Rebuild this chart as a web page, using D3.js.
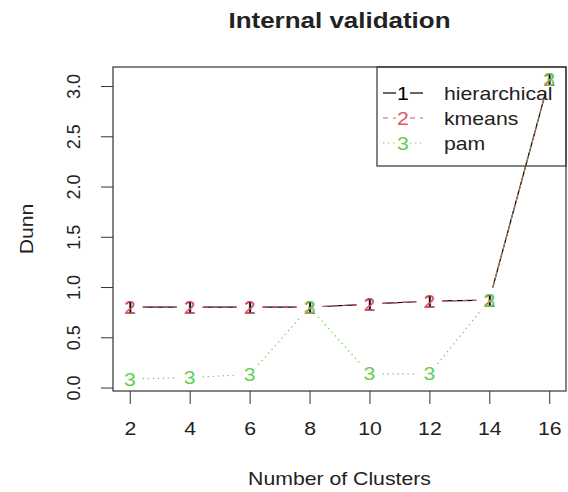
<!DOCTYPE html>
<html>
<head>
<meta charset="utf-8">
<script src="https://cdn.jsdelivr.net/npm/d3@7"></script>
<style>
  body { margin: 0; background: #fff; }
  text { font-family: "Liberation Sans", Arial, sans-serif; }
</style>
</head>
<body>
<div id="plot"></div>
<script>
// data
var clusters = [2, 4, 6, 8, 10, 12, 14, 16];
var hierarchical = [0.80, 0.80, 0.80, 0.80, 0.83, 0.86, 0.87, 3.07];
var kmeans = [0.80, 0.80, 0.80, 0.80, 0.83, 0.86, 0.87, 3.07];
var pam = [0.085, 0.10, 0.13, 0.80, 0.135, 0.135, 0.87, 3.07];
var seriesNames = ["hierarchical", "kmeans", "pam"];
var yTicks = [0, 0.5, 1, 1.5, 2, 2.5, 3];

var series = [
  {name: seriesNames[0], values: hierarchical, pch: "1", color: "#000000", dash: null},
  {name: seriesNames[1], values: kmeans, pch: "2", color: "#DF536B", dash: "5,5"},
  {name: seriesNames[2], values: pam, pch: "3", color: "#61D04F", dash: "1.3,3.7"}
];

var width = 568, height = 492;
var box = {left: 113, right: 566, top: 67, bottom: 391};
var stretch = 1.18;   // text in the picture is a bit wider than tall
var textColor = "#222";

var svg = d3.select("#plot")
  .append("svg")
    .attr("width", width)
    .attr("height", height);

// R style axis ranges: 4% padding on each side
function padded(lo, hi) {
  var d = (hi - lo) * 0.04;
  return [lo - d, hi + d];
}
var allY = hierarchical.concat(kmeans, pam);

var x = d3.scaleLinear()
    .domain(padded(d3.min(clusters), d3.max(clusters)))
    .range([box.left, box.right]);

var y = d3.scaleLinear()
    .domain(padded(d3.min(allY), d3.max(allY)))
    .range([box.bottom, box.top]);

// x axis
var xAxis = svg.append("g")
    .attr("transform", "translate(0," + box.bottom + ")")
    .call(d3.axisBottom(x).tickValues(clusters).tickSize(13).tickSizeOuter(0));
xAxis.select(".domain").remove();
xAxis.selectAll("line").attr("stroke", "#333");
xAxis.selectAll("text")
    .attr("y", 0)
    .attr("dy", 0)
    .attr("transform", "translate(0,44) scale(" + stretch + ",1)")
    .attr("font-size", "18px")
    .attr("fill", textColor);

// y axis, labels parallel to the axis
var yAxis = svg.append("g")
    .attr("transform", "translate(" + box.left + ",0)")
    .call(d3.axisLeft(y).tickValues(yTicks).tickFormat(d3.format(".1f")).tickSize(12).tickSizeOuter(0));
yAxis.select(".domain").remove();
yAxis.selectAll("line").attr("stroke", "#333");
yAxis.selectAll("text")
    .attr("x", 0)
    .attr("dy", 0)
    .attr("text-anchor", "middle")
    .attr("transform", "translate(-33,0) rotate(-90)")
    .attr("font-size", "18px")
    .attr("fill", textColor);

// series: lines with gaps around the point characters (type = "b")
var gap = 13;
series.forEach(function(s) {
  var pts = clusters.map(function(c, i) { return [x(c), y(s.values[i])]; });
  var segs = [];
  for (var i = 0; i < pts.length - 1; i++) {
    var dx = pts[i + 1][0] - pts[i][0], dy = pts[i + 1][1] - pts[i][1];
    var len = Math.sqrt(dx * dx + dy * dy);
    if (len <= 2 * gap) continue;
    var ux = dx / len, uy = dy / len;
    segs.push([pts[i][0] + ux * gap, pts[i][1] + uy * gap,
               pts[i + 1][0] - ux * gap, pts[i + 1][1] - uy * gap]);
  }
  var g = svg.append("g");
  g.selectAll("line")
    .data(segs)
    .enter()
    .append("line")
      .attr("x1", function(d) { return d[0]; })
      .attr("y1", function(d) { return d[1]; })
      .attr("x2", function(d) { return d[2]; })
      .attr("y2", function(d) { return d[3]; })
      .attr("stroke", s.color)
      .attr("stroke-width", 1.2)
      .attr("stroke-dasharray", s.dash);

  g.selectAll("text")
    .data(clusters)
    .enter()
    .append("text")
      .attr("transform", function(d, i) {
        return "translate(" + x(d) + "," + (y(s.values[i]) + 6.5) + ") scale(" + stretch + ",1)";
      })
      .attr("text-anchor", "middle")
      .attr("font-size", "18px")
      .attr("fill", s.color)
      .text(s.pch);
});

// plot box
svg.append("rect")
    .attr("x", box.left)
    .attr("y", box.top)
    .attr("width", box.right - box.left)
    .attr("height", box.bottom - box.top)
    .attr("fill", "none")
    .attr("stroke", "#333")
    .attr("stroke-width", 1.2);

// legend, top right
var legend = svg.append("g");
legend.append("rect")
    .attr("x", 377)
    .attr("y", box.top)
    .attr("width", box.right - 377)
    .attr("height", 99)
    .attr("fill", "none")
    .attr("stroke", "#333")
    .attr("stroke-width", 1.2);

var items = legend.selectAll(".legend")
    .data(series)
    .enter()
    .append("g")
      .classed("legend", true)
      .attr("transform", function(d, i) { return "translate(0," + (93 + i * 25) + ")"; });

items.append("line")
    .attr("x1", 383).attr("x2", 396).attr("y1", 0).attr("y2", 0)
    .attr("stroke", function(d) { return d.color; })
    .attr("stroke-width", 1.2)
    .attr("stroke-dasharray", function(d) { return d.dash; });
items.append("line")
    .attr("x1", 410).attr("x2", 423).attr("y1", 0).attr("y2", 0)
    .attr("stroke", function(d) { return d.color; })
    .attr("stroke-width", 1.2)
    .attr("stroke-dasharray", function(d) { return d.dash; });
items.append("text")
    .attr("transform", "translate(403,6.5) scale(" + stretch + ",1)")
    .attr("text-anchor", "middle")
    .attr("font-size", "18px")
    .attr("fill", function(d) { return d.color; })
    .text(function(d) { return d.pch; });
items.append("text")
    .attr("transform", "translate(444,6.5) scale(" + stretch + ",1)")
    .attr("font-size", "18px")
    .attr("fill", textColor)
    .text(function(d) { return d.name; });

// titles
svg.append("text")
    .attr("transform", "translate(" + ((box.left + box.right) / 2) + ",28) scale(" + stretch + ",1)")
    .attr("text-anchor", "middle")
    .attr("font-size", "22px")
    .attr("font-weight", "bold")
    .attr("fill", textColor)
    .text("Internal validation");

svg.append("text")
    .attr("transform", "translate(" + ((box.left + box.right) / 2) + ",485) scale(" + stretch + ",1)")
    .attr("text-anchor", "middle")
    .attr("font-size", "18px")
    .attr("fill", textColor)
    .text("Number of Clusters");

svg.append("text")
    .attr("transform", "translate(33," + ((box.top + box.bottom) / 2) + ") rotate(-90) scale(" + stretch + ",1)")
    .attr("text-anchor", "middle")
    .attr("font-size", "18px")
    .attr("fill", textColor)
    .text("Dunn");
</script>
</body>
</html>
